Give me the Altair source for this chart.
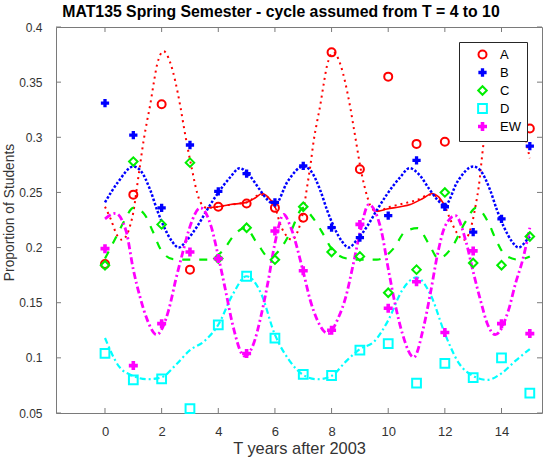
import altair as alt
import pandas as pd

# ---------------- data ----------------
series_names = ["A", "B", "C", "D", "EW"]
T_all = list(range(16))

A_T = [0, 1, 2, 3, 4, 5, 6, 7, 8, 9, 10, 11, 12, 15]
A_vals = [0.185, 0.248, 0.330, 0.180, 0.237, 0.240, 0.236, 0.227, 0.377, 0.271, 0.355, 0.294, 0.296, 0.308]
B_vals = [0.331, 0.302, 0.236, 0.293, 0.251, 0.267, 0.241, 0.274, 0.218, 0.209, 0.229, 0.279, 0.237, 0.214, 0.226, 0.292]
C_vals = [0.184, 0.278, 0.221, 0.277, 0.190, 0.218, 0.189, 0.237, 0.196, 0.192, 0.159, 0.180, 0.250, 0.186, 0.184, 0.210]
D_vals = [0.104, 0.080, 0.081, 0.054, 0.130, 0.174, 0.118, 0.085, 0.084, 0.107, 0.113, 0.077, 0.095, 0.082, 0.100, 0.068]
EW_vals = [0.199, 0.093, 0.131, 0.196, 0.190, 0.104, 0.215, 0.179, 0.125, 0.221, 0.145, 0.169, 0.123, 0.197, 0.131, 0.122]

# fitted curves
Adot_T = [0, 0.2, 0.43, 0.6, 0.78, 0.9, 1.0, 1.13, 1.25, 1.37, 1.48, 1.6, 1.72, 1.84, 2.07, 2.3, 2.48, 2.66, 2.8,
          3.07, 3.25, 3.37, 3.6, 4.0, 4.43, 5.0, 5.49, 5.72, 6.0,
          6.19, 6.43, 6.6, 6.78, 6.9, 7.0, 7.13, 7.25, 7.37, 7.48, 7.6, 7.72, 7.84, 8.07, 8.3, 8.48, 8.66, 8.8,
          9.07, 9.25, 9.37, 9.6, 10.07, 10.55, 11.0, 11.48, 11.72, 11.9, 12.0,
          12.2, 12.43, 12.66, 12.84, 12.96, 13.1, 13.19, 13.37, 13.48, 13.6, 13.72, 13.84, 14.07, 14.3, 14.48,
          14.66, 14.8, 15.0]
Adot_v = [0.237, 0.226, 0.211, 0.207, 0.212, 0.221, 0.232, 0.255, 0.277, 0.298, 0.314, 0.330, 0.349, 0.366, 0.378,
          0.368, 0.351, 0.328, 0.307, 0.271, 0.250, 0.241, 0.236, 0.237, 0.239, 0.241, 0.248, 0.246, 0.237,
          0.221, 0.210, 0.207, 0.213, 0.222, 0.233, 0.254, 0.274, 0.297, 0.313, 0.329, 0.348, 0.365, 0.377,
          0.367, 0.350, 0.327, 0.306, 0.266, 0.247, 0.238, 0.233, 0.237, 0.240, 0.243, 0.248, 0.246, 0.240, 0.237,
          0.225, 0.213, 0.207, 0.212, 0.222, 0.240, 0.254, 0.295, 0.312, 0.329, 0.348, 0.365, 0.378, 0.367, 0.350,
          0.327, 0.306, 0.281]

Asol_T = [3.6, 4.0, 4.43, 5.0, 5.3, 5.55, 5.75, 6.0, 6.05,
          9.45, 9.6, 9.96, 10.43, 10.78, 11.25, 11.55, 11.78, 12.02]
Asol_v = [0.236, 0.237, 0.239, 0.241, 0.245, 0.249, 0.246, 0.237, 0.234,
          0.234, 0.233, 0.235, 0.237, 0.239, 0.245, 0.249, 0.246, 0.237]
Asol_seg = [1] * 9 + [2] * 9

B_T = [0, 0.45, 1.0, 1.25, 1.6, 1.84, 2.08, 2.37, 2.6, 2.9, 3.25, 3.6, 3.95, 4.43, 4.75, 5.08, 5.45, 5.75, 6.0,
       6.45, 7.0, 7.25, 7.6, 7.84, 8.08, 8.37, 8.6, 8.9, 9.25, 9.6, 9.95, 10.43, 10.75, 11.1, 11.45, 11.75, 12.0,
       12.45, 13.0, 13.25, 13.6, 13.84, 14.08, 14.37, 14.6, 14.9, 15.0]
B_v = [0.241, 0.259, 0.2735, 0.270, 0.252, 0.234, 0.219, 0.2055, 0.200, 0.207, 0.219, 0.234, 0.248, 0.264, 0.272,
       0.266, 0.253, 0.243, 0.239,
       0.260, 0.2735, 0.270, 0.252, 0.234, 0.219, 0.2055, 0.200, 0.207, 0.219, 0.234, 0.248, 0.264, 0.272,
       0.266, 0.253, 0.243, 0.238,
       0.260, 0.2735, 0.270, 0.252, 0.234, 0.219, 0.2055, 0.200, 0.207, 0.210]

C_T = [0, 0.37, 0.67, 1.0, 1.37, 1.69, 1.96, 2.4, 3.0, 3.63, 4.19, 4.52, 4.95, 5.37, 5.8,
       6.17, 6.55, 7.0, 7.31, 7.72, 8.0, 8.55, 9.0, 9.6, 10.2, 10.6, 11.04, 11.42, 11.78,
       12.23, 12.72, 13.1, 13.55, 13.78, 14.14, 14.6, 15.0]
C_v = [0.190, 0.2085, 0.2236, 0.236, 0.231, 0.2145, 0.1986, 0.1895, 0.189, 0.189, 0.198, 0.210, 0.218, 0.204, 0.191,
       0.198, 0.214, 0.236, 0.228, 0.2115, 0.199, 0.190, 0.189, 0.189, 0.1995, 0.2145, 0.2176, 0.204, 0.190,
       0.1995, 0.223, 0.236, 0.222, 0.2085, 0.193, 0.189, 0.192]

D_T = [0, 0.5, 1.0, 1.5, 2.0, 2.5, 3.0, 3.5, 4.0, 4.5, 5.0, 5.5, 6.0, 6.5, 7.0, 7.5, 8.0, 8.5, 9.0, 9.5, 10.0,
       10.5, 11.0, 11.5, 12.0, 12.5, 13.0, 13.5, 14.0, 14.5, 15.0]
D_v = [0.118, 0.092, 0.0836, 0.0806, 0.0824, 0.0936, 0.107, 0.115, 0.130, 0.157, 0.174, 0.159, 0.121, 0.098,
       0.0845, 0.0806, 0.0836, 0.0966, 0.108, 0.1147, 0.134, 0.1616, 0.173, 0.157, 0.122, 0.095, 0.0836, 0.080,
       0.086, 0.0975, 0.108]

EW_T = [0, 0.37, 0.75, 1.0, 1.25, 1.5, 1.82, 2.25, 2.5, 2.75, 3.0, 3.37, 3.75, 4.0, 4.25, 4.5, 4.92, 5.25, 5.5,
        5.75, 6.0, 6.31, 6.55, 7.0, 7.25, 7.5, 7.87, 8.25, 8.5, 8.75, 9.0, 9.31, 9.75, 10.0, 10.25, 10.5, 10.9,
        11.25, 11.5, 11.75, 12.0, 12.37, 12.75, 13.0, 13.25, 13.5, 13.78, 14.25, 14.5, 14.75, 15.0]
EW_v = [0.226, 0.231, 0.2145, 0.180, 0.154, 0.134, 0.121, 0.1435, 0.171, 0.196, 0.219, 0.236, 0.219, 0.192, 0.162,
        0.131, 0.1017, 0.113, 0.137, 0.168, 0.204, 0.230, 0.219, 0.178, 0.152, 0.134, 0.122, 0.137, 0.155, 0.183,
        0.213, 0.239, 0.216, 0.181, 0.148, 0.122, 0.1005, 0.128, 0.160, 0.195, 0.219, 0.229, 0.205, 0.178, 0.153,
        0.131, 0.121, 0.1435, 0.168, 0.189, 0.218]

x_ticks = [0, 2, 4, 6, 8, 10, 12, 14]
y_ticks = [0.05, 0.1, 0.15, 0.2, 0.25, 0.3, 0.35, 0.4]

# ---------------- styles ----------------
stroke_range = ["#ff0000", "transparent", "#00ee00", "#00ffff", "transparent"]
fill_range = ["transparent", "#0000ff", "transparent", "transparent", "#ff00ff"]
shape_range = ["circle", "cross", "diamond", "square", "cross"]
size_range = [64, 81, 100, 44, 81]

W, H = 486, 386
FONT = "Liberation Sans"

# ---------------- tables ----------------
rows = []
for t, v in zip(A_T, A_vals):
    rows.append({"T": t, "v": v, "series": "A"})
for name, vals in [("B", B_vals), ("C", C_vals), ("D", D_vals), ("EW", EW_vals)]:
    for t, v in zip(T_all, vals):
        rows.append({"T": t, "v": v, "series": name})
pts = pd.DataFrame(rows)

def curve(ts, vs):
    return pd.DataFrame({"T": ts, "v": vs})

xs = alt.Scale(domain=[-1.73, 15.43], nice=False, zero=False)
ys = alt.Scale(domain=[0.05, 0.4], nice=False, zero=False)
x_enc = alt.X("T:Q", scale=xs, title="T years after 2003",
              axis=alt.Axis(values=x_ticks, format="d", labelPadding=12, labelFontSize=13,
                            titlePadding=2, titleFontSize=16.4))
y_enc = alt.Y("v:Q", scale=ys, title="Proportion of Students",
              axis=alt.Axis(values=y_ticks, format=".2~f", labelPadding=14, labelFontSize=12,
                            titlePadding=2, titleFontSize=13.8, titleY=185))

def line(df, color, width, dash=None):
    kw = dict(color=color, strokeWidth=width, interpolate="monotone")
    if dash:
        kw["strokeDash"] = dash
    return alt.Chart(df).mark_line(**kw).encode(x=x_enc, y=y_enc)

l_adot = line(curve(Adot_T, Adot_v), "#ff0000", 2, [2, 4])
l_asol = alt.Chart(pd.DataFrame({"T": Asol_T, "v": Asol_v, "seg": Asol_seg})).mark_line(
    color="#ff0000", strokeWidth=1.6, interpolate="monotone").encode(x=x_enc, y=y_enc, detail="seg:N")
l_b = line(curve(B_T, B_v), "#0000ff", 2.5, [2.5, 1.8])
l_c = line(curve(C_T, C_v), "#00ee00", 2.2, [8, 9])
l_d = line(curve(D_T, D_v), "#00ffff", 2.2, [6, 3, 2, 3])
l_ew = line(curve(EW_T, EW_v), "#ff00ff", 2.8, [7, 3, 2, 3])

leg = alt.Legend(title=None, orient="none", legendX=403, legendY=15, fillColor="white",
                 strokeColor="#262626", padding=6, symbolOffset=11, labelOffset=11, rowPadding=1,
                 labelFontSize=13, labelFont=FONT, labelColor="black", symbolStrokeWidth=2)

points = alt.Chart(pts).mark_point(strokeWidth=2, opacity=1).encode(
    x=x_enc, y=y_enc,
    stroke=alt.Stroke("series:N", scale=alt.Scale(domain=series_names, range=stroke_range), legend=leg),
    fill=alt.Fill("series:N", scale=alt.Scale(domain=series_names, range=fill_range), legend=leg),
    shape=alt.Shape("series:N", scale=alt.Scale(domain=series_names, range=shape_range), legend=leg),
    size=alt.Size("series:N", scale=alt.Scale(domain=series_names, range=size_range), legend=leg),
)

TICK = "#7a7a7a"
xt = pd.DataFrame({"T": x_ticks})
yt = pd.DataFrame({"v": y_ticks})
tick_b = alt.Chart(xt).mark_rule(color=TICK, strokeWidth=1).encode(x=x_enc, y=alt.value(H), y2=alt.value(H - 5))
tick_t = alt.Chart(xt).mark_rule(color=TICK, strokeWidth=1).encode(x=x_enc, y=alt.value(0), y2=alt.value(5))
tick_l = alt.Chart(yt).mark_rule(color=TICK, strokeWidth=1).encode(y=y_enc, x=alt.value(0), x2=alt.value(5))
tick_r = alt.Chart(yt).mark_rule(color=TICK, strokeWidth=1).encode(y=y_enc, x=alt.value(W - 5), x2=alt.value(W))

chart = alt.layer(l_adot, l_asol, l_b, l_c, l_d, l_ew, points, tick_b, tick_t, tick_l, tick_r).properties(
    width=W, height=H,
    autosize=alt.AutoSizeParams(type="none"),
    padding={"left": 56, "top": 27, "right": 5, "bottom": 50},
    title=alt.Title("MAT135 Spring Semester - cycle assumed from T = 4 to 10", font=FONT, fontSize=15.8,
                    fontWeight="bold", color="black", anchor="middle", dx=-18, dy=8, offset=8),
).configure_view(stroke=TICK, strokeWidth=1).configure_axis(
    domain=False, ticks=False, grid=False, labelFont=FONT, labelColor="#333333",
    titleFont=FONT, titleFontWeight="normal", titleColor="#333333"
)

chart.save("out.html", embed_options={"renderer": "svg", "actions": False})
